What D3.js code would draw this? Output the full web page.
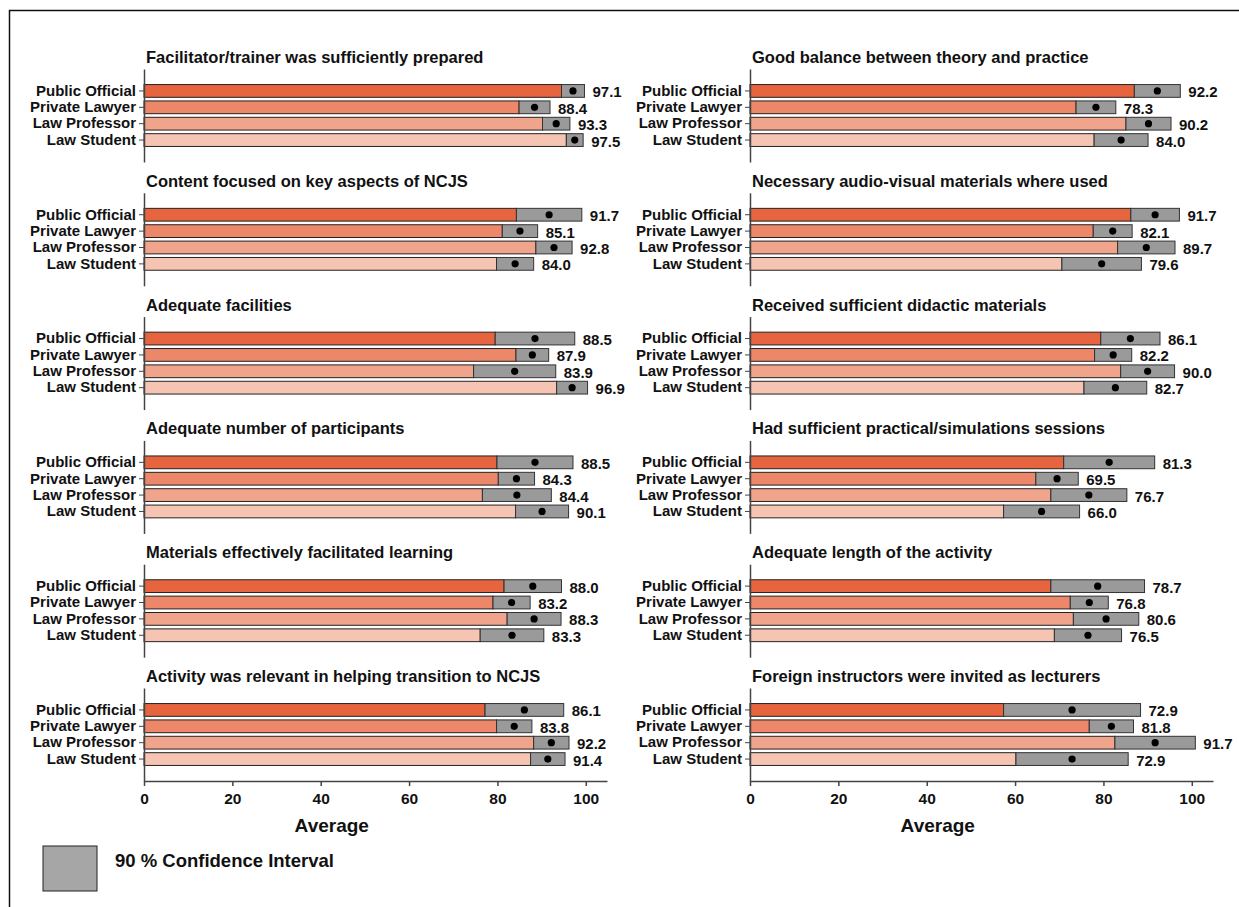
<!DOCTYPE html>
<html>
<head>
<meta charset="utf-8">
<script src="https://cdn.jsdelivr.net/npm/d3@7"></script>
<style>
  body { margin: 0; background: #fff; }
  text { font-family: "Liberation Sans", Arial, sans-serif; font-weight: bold; fill: #111; }
</style>
</head>
<body>
<svg id="chart" width="1239" height="907"></svg>
<script>
// groups of respondents, one bar per group in every panel
var groups = ["Public Official", "Private Lawyer", "Law Professor", "Law Student"];
var groupColors = ["#e6653f", "#ec8769", "#f0a48b", "#f5c4b2"];

// left column, top to bottom
var leftTitles = [
    "Facilitator/trainer was sufficiently prepared",
    "Content focused on key aspects of NCJS",
    "Adequate facilities",
    "Adequate number of participants",
    "Materials effectively facilitated learning",
    "Activity was relevant in helping transition to NCJS"
];
var leftMeans = [
    [97.1, 88.4, 93.3, 97.5],
    [91.7, 85.1, 92.8, 84.0],
    [88.5, 87.9, 83.9, 96.9],
    [88.5, 84.3, 84.4, 90.1],
    [88.0, 83.2, 88.3, 83.3],
    [86.1, 83.8, 92.2, 91.4]
];
// half width of the 90% confidence interval
var leftMargins = [
    [2.6, 3.5, 3.1, 1.9],
    [7.4, 4.0, 4.1, 4.2],
    [9.0, 3.7, 9.3, 3.5],
    [8.6, 4.1, 7.8, 6.0],
    [6.5, 4.2, 6.1, 7.2],
    [8.9, 4.0, 4.0, 3.9]
];

// right column, top to bottom
var rightTitles = [
    "Good balance between theory and practice",
    "Necessary audio-visual materials where used",
    "Received sufficient didactic materials",
    "Had sufficient practical/simulations sessions",
    "Adequate length of the activity",
    "Foreign instructors were invited as lecturers"
];
var rightMeans = [
    [92.2, 78.3, 90.2, 84.0],
    [91.7, 82.1, 89.7, 79.6],
    [86.1, 82.2, 90.0, 82.7],
    [81.3, 69.5, 76.7, 66.0],
    [78.7, 76.8, 80.6, 76.5],
    [72.9, 81.8, 91.7, 72.9]
];
var rightMargins = [
    [5.2, 4.5, 5.1, 6.1],
    [5.5, 4.4, 6.5, 9.0],
    [6.7, 4.2, 6.1, 7.1],
    [10.3, 4.8, 8.6, 8.6],
    [10.6, 4.3, 7.4, 7.6],
    [15.5, 5.0, 9.1, 12.7]
];

var xTicks = [0, 20, 40, 60, 80, 100];
var xLabel = "Average";
var legendLabel = "90 % Confidence Interval";

var svg = d3.select("svg#chart");

// outer frame
svg.append("rect")
    .attr("x", 9.5).attr("y", 10.5)
    .attr("width", 1260).attr("height", 1000)
    .attr("fill", "none").attr("stroke", "#111").attr("stroke-width", 1.5);

var x = d3.scaleLinear().domain([0, 104.8]).range([0, 463]);

var panelTop = 57, panelStep = 123.8;

function styleTicks(sel, size) {
    sel.style("font-size", size)
        .style("font-family", "'Liberation Sans', Arial, sans-serif")
        .style("font-weight", "bold")
        .attr("fill", "#111");
}

function drawColumn(x0, titles, means, margins) {
    var col = svg.append("g").attr("transform", "translate(" + x0 + ",0)");

    for (var i = 0; i < titles.length; i++) {
        var t = panelTop + i * panelStep;
        var y = d3.scaleBand()
            .domain(groups)
            .range([t + 12, t + 105])
            .paddingInner(0.22)
            .paddingOuter(0.95);

        var panel = col.append("g").attr("class", "panel");

        panel.append("text")
            .attr("x", 2)
            .attr("y", t)
            .attr("dominant-baseline", "central")
            .style("font-size", "16.5px")
            .text(titles[i]);

        var rows = groups.map(function(g, j) {
            return { group: g, mean: means[i][j], lo: means[i][j] - margins[i][j],
                     hi: means[i][j] + margins[i][j], color: groupColors[j] };
        });

        // bar up to the lower bound
        panel.selectAll("rect.bar").data(rows).enter().append("rect")
            .attr("class", "bar")
            .attr("x", x(0))
            .attr("y", function(d) { return y(d.group); })
            .attr("width", function(d) { return x(d.lo) - x(0); })
            .attr("height", y.bandwidth())
            .attr("fill", function(d) { return d.color; })
            .attr("stroke", "#222").attr("stroke-width", 1);

        // confidence interval box
        panel.selectAll("rect.ci").data(rows).enter().append("rect")
            .attr("class", "ci")
            .attr("x", function(d) { return x(d.lo); })
            .attr("y", function(d) { return y(d.group); })
            .attr("width", function(d) { return x(d.hi) - x(d.lo); })
            .attr("height", y.bandwidth())
            .attr("fill", "#9a9a9a")
            .attr("stroke", "#333").attr("stroke-width", 1);

        panel.selectAll("circle.mean").data(rows).enter().append("circle")
            .attr("class", "mean")
            .attr("cx", function(d) { return x(d.mean); })
            .attr("cy", function(d) { return y(d.group) + y.bandwidth() / 2; })
            .attr("r", 3.6)
            .attr("fill", "#000");

        panel.selectAll("text.val").data(rows).enter().append("text")
            .attr("class", "val")
            .attr("x", function(d) { return x(d.hi) + 8; })
            .attr("y", function(d) { return y(d.group) + y.bandwidth() / 2 + 1; })
            .attr("dominant-baseline", "central")
            .style("font-size", "15px")
            .text(function(d) { return d.mean.toFixed(1); });

        var yAxis = panel.append("g")
            .call(d3.axisLeft(y).tickSize(5).tickSizeOuter(0).tickPadding(3));
        yAxis.select(".domain").attr("stroke", "#444").attr("stroke-width", 1.5);
        yAxis.selectAll(".tick line").attr("stroke", "#444");
        styleTicks(yAxis.selectAll(".tick text"), "15px");
    }

    var bottom = panelTop + (titles.length - 1) * panelStep + 105;
    var xAxis = col.append("g")
        .attr("transform", "translate(0," + bottom + ")")
        .call(d3.axisBottom(x).tickValues(xTicks).tickSize(5).tickSizeOuter(0).tickPadding(7));
    xAxis.select(".domain").attr("stroke", "#444").attr("stroke-width", 1.5);
    xAxis.selectAll(".tick line").attr("stroke", "#444").attr("stroke-width", 1.5);
    styleTicks(xAxis.selectAll(".tick text"), "15.5px");

    col.append("text")
        .attr("x", x(42.5))
        .attr("y", bottom + 44)
        .attr("text-anchor", "middle")
        .attr("dominant-baseline", "central")
        .style("font-size", "19px")
        .text(xLabel);
}

drawColumn(144, leftTitles, leftMeans, leftMargins);
drawColumn(750, rightTitles, rightMeans, rightMargins);

// legend
svg.append("rect")
    .attr("x", 43).attr("y", 846)
    .attr("width", 54).attr("height", 45)
    .attr("fill", "#a6a6a6").attr("stroke", "#222").attr("stroke-width", 1);
svg.append("text")
    .attr("x", 115).attr("y", 860)
    .attr("dominant-baseline", "central")
    .style("font-size", "18.5px")
    .text(legendLabel);
</script>
</body>
</html>
